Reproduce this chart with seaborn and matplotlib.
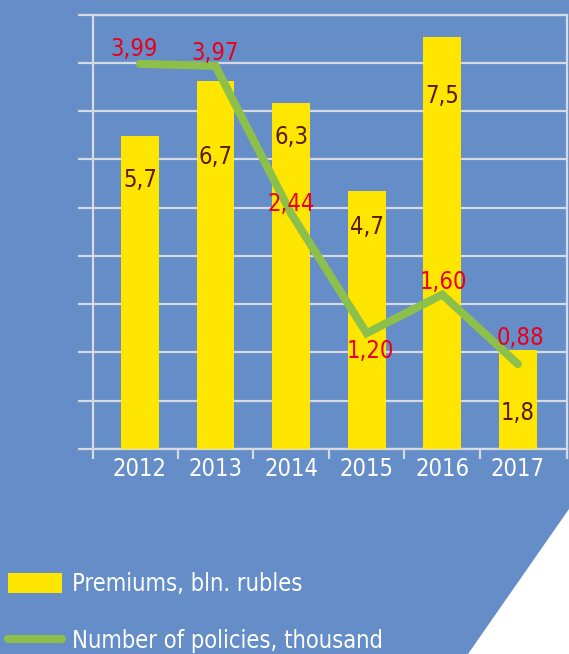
import numpy as np
import pandas as pd
import seaborn as sns
import matplotlib.pyplot as plt
from matplotlib.patches import Patch, Polygon
from matplotlib.lines import Line2D

# Dados do gráfico
anos = ['2012', '2013', '2014', '2015', '2016', '2017']
premios = [5.7, 6.7, 6.3, 4.7, 7.5, 1.8]          # bln. rubles
apolices = [3.99, 3.97, 2.44, 1.20, 1.60, 0.88]   # thousand
rotulos_premios = ['5,7', '6,7', '6,3', '4,7', '7,5', '1,8']
rotulos_apolices = ['3,99', '3,97', '2,44', '1,20', '1,60', '0,88']

# Cores
fundo = '#658dc7'
grade = '#d6dbe3'
amarelo = '#ffe600'
verde = '#8dc04a'
vermelho = '#e8001e'
marrom = '#5a1a00'

sns.set_style('white')
plt.rcParams['font.family'] = ['DejaVu Sans']
plt.rcParams['font.stretch'] = 'condensed'
tam = 17

df = pd.DataFrame({'Ano': anos, 'Premios': premios, 'Apolices': apolices})

fig = plt.figure(figsize=(5.69, 6.54), dpi=100, facecolor=fundo)
ax = fig.add_axes([93 / 569, 205 / 654, 474 / 569, 434.3 / 654])
ax.set_facecolor(fundo)

# Barras (eixo da esquerda)
sns.barplot(data=df, x='Ano', y='Premios', color=amarelo, saturation=1,
            width=0.5, errorbar=None, ax=ax, zorder=3, edgecolor='none', linewidth=0)
ax.set_ylim(0, 7.9)
ax.set_xlim(-0.62, 5.65)
ax.set_yticks(np.linspace(0, 7.9, 10))
ax.set_yticklabels([])
ax.grid(axis='y', color=grade, linewidth=1.6, zorder=0)
ax.set_axisbelow(True)
ax.tick_params(axis='y', direction='out', length=11, width=1.6, color=grade, left=True)
ax.tick_params(axis='x', which='major', length=0, labelsize=tam, labelcolor='white', pad=6)
ax.set_xticks([-0.62, 0.5, 1.5, 2.5, 3.5, 4.5, 5.65], minor=True)
ax.tick_params(axis='x', which='minor', direction='out', length=7, width=1.6, color=grade, bottom=True)
ax.set_xlabel('')
ax.set_ylabel('')
for lado in ['left', 'right', 'top', 'bottom']:
    ax.spines[lado].set_color(grade)
    ax.spines[lado].set_linewidth(1.6)

# Rótulos das barras
desloc_barras = [-32, -55, -25, -26, -43, -45]
for i, (v, txt) in enumerate(zip(premios, rotulos_premios)):
    ax.annotate(txt, (i, v), xytext=(0, desloc_barras[i]), textcoords='offset points',
                ha='center', va='center', fontsize=tam, color=marrom, zorder=5)

# Linha (eixo da direita)
ax2 = ax.twinx()
sns.lineplot(x=np.arange(len(anos)), y=apolices, ax=ax2, color=verde,
             linewidth=5.8, solid_capstyle='round', solid_joinstyle='miter')
ax2.set_ylim(0, 4.5)
ax2.set_yticks([])
for lado in ['left', 'right', 'top', 'bottom']:
    ax2.spines[lado].set_visible(False)

desloc_linha = [(-4, 11), (0, 9), (0, 7), (3, -13), (1, 9), (2, 19)]
for i, (v, txt) in enumerate(zip(apolices, rotulos_apolices)):
    ax2.annotate(txt, (i, v), xytext=desloc_linha[i], textcoords='offset points',
                 ha='center', va='center', fontsize=tam, color=vermelho, zorder=6)

# Triângulo branco decorativo
fig.add_artist(Polygon([(1, 1 - 509 / 654), (468 / 569, 0), (1, 0)],
                       closed=True, transform=fig.transFigure,
                       facecolor='white', edgecolor='none'))

# Legenda
handles = [Patch(facecolor=amarelo, edgecolor='none'),
           Line2D([0], [0], color=verde, linewidth=5.8, solid_capstyle='round')]
fig.legend(handles, ['Premiums, bln. rubles', 'Number of policies, thousand'],
           loc='upper left', bbox_to_anchor=(8 / 569, 1 - 572 / 654),
           frameon=False, fontsize=tam, labelcolor='white',
           handlelength=2.29, handleheight=0.97, handletextpad=0.42,
           labelspacing=1.4, borderpad=0, borderaxespad=0)

plt.savefig('out.png', dpi=100, facecolor=fundo)
